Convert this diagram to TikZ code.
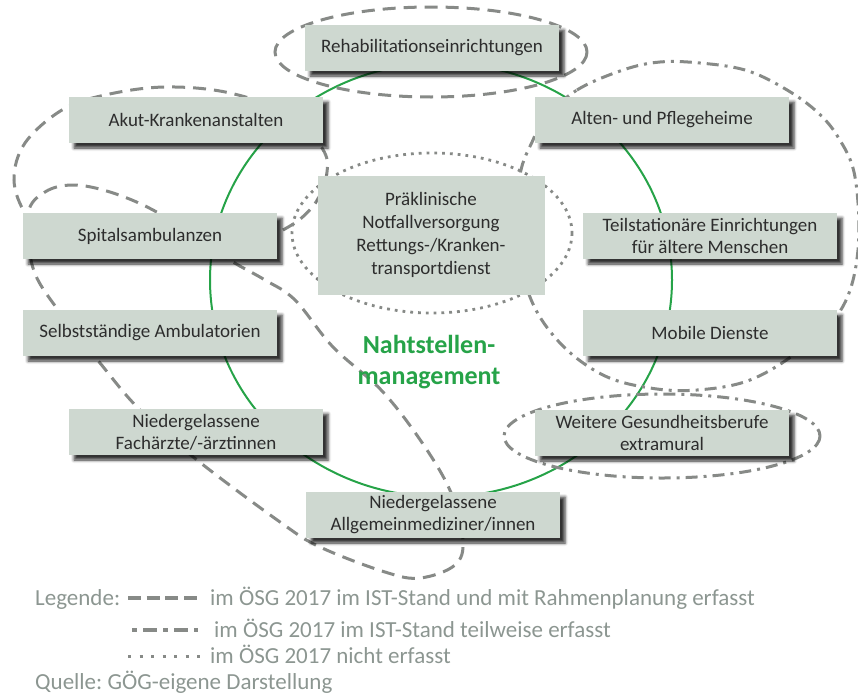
\documentclass[tikz,border=0pt]{standalone}
\usepackage{fontspec}
\setmainfont{Carlito}
\usetikzlibrary{shadows.blur}
\definecolor{boxsage}{RGB}{206,216,208}
\definecolor{inkgrey}{RGB}{45,45,45}
\definecolor{linegrey}{RGB}{135,138,135}
\definecolor{nahtgreen}{RGB}{38,163,72}
\definecolor{leggrey}{RGB}{140,150,145}
\frenchspacing

\tikzset{
  facility/.style={fill=boxsage, text=inkgrey, minimum width=254pt, minimum height=46pt,
    align=center, inner sep=0pt, font=\fontsize{19}{22}\selectfont,
    blur shadow={shadow xshift=5pt, shadow yshift=-5pt, shadow blur radius=3pt, shadow opacity=80}},
  fullline/.style={linegrey, line width=3pt, dash pattern=on 13pt off 8pt},
  partline/.style={linegrey, line width=3pt, dash pattern=on 12pt off 6pt on 3pt off 6pt},
  noneline/.style={linegrey, line width=2.8pt, dash pattern=on 2.8pt off 5pt},
  legtext/.style={text=leggrey, font=\fontsize{23}{26}\selectfont, inner sep=0pt, anchor=base west},
}

\begin{document}
\begin{tikzpicture}[x=1pt,y=-1pt]
        \useasboundingbox (0,0) rectangle (858,696);
        % green ring
        \draw[nahtgreen, line width=2pt] (441,280) ellipse [x radius=231, y radius=217];
        % groupings
        \draw[fullline] (431,52) ellipse [x radius=156, y radius=45];
        \draw[fullline] plot[smooth cycle, tension=0.6] coordinates {
          (322,148) (327,172) (316,202) (290,226) (250,240) (150,246) (50,240) (26,215)
          (14,180) (25,143) (62,110) (105,95) (165,87) (230,93) (290,115)};
        \draw[fullline] plot[smooth cycle, tension=0.6] coordinates {
          (28,214) (45,192) (73,185) (110,192) (153,210) (200,240) (233,262) (265,280)
          (295,300) (333,347) (383,392) (425,447) (452,495) (463,540) (455,565) (420,578)
          (385,572) (320,547) (280,522) (197,460) (140,410) (100,363) (58,310) (33,268)};
        \draw[partline] plot[smooth cycle, tension=0.6] coordinates {
          (545,118) (577,90) (623,70) (660,62) (700,63) (745,70) (782,87) (815,110)
          (838,137) (855,177) (858,250) (842,308) (800,350) (750,380) (697,390) (650,388)
          (603,375) (560,343) (530,297) (518,235) (520,175) (533,140)};
        \draw[partline] (662,436) ellipse [x radius=158, y radius=42];
        \draw[noneline] (432,233) ellipse [x radius=140, y radius=80];
        % facilities
        \node[facility] (rehab)    at (432,48)  {Rehabilitationseinrichtungen};
        \node[facility] (akut)     at (196,120) {Akut-Krankenanstalten};
        \node[facility] (alten)    at (662,120) {Alten- und Pflegeheime};
        \node[facility, blur shadow={shadow opacity=0}, minimum width=227pt, minimum height=119pt,
          font=\fontsize{19}{23}\selectfont] (notfall) at (431,235)
          {Präklinische\\Notfallversorgung\\Rettungs-/Kranken-\\transportdienst};
        \node[facility] (spital)   at (150,236) {Spitalsambulanzen};
        \node[facility] (teilstat) at (710,236) {Teilstationäre Einrichtungen\\für ältere Menschen};
        \node[facility] (ambul)    at (150,333) {Selbstständige Ambulatorien};
        \node[facility] (mobil)    at (710,333) {Mobile Dienste};
        \node[facility] (facharzt) at (196,432) {Niedergelassene\\Fachärzte/-ärztinnen};
        \node[facility] (weitere)  at (662,433) {Weitere Gesundheitsberufe\\extramural};
        \node[facility] (allgmed)  at (433,515) {Niedergelassene\\Allgemeinmediziner/innen};
        \node[text=nahtgreen, align=center, font=\fontsize{26}{31}\selectfont\bfseries]
          (naht) at (429,362) {Nahtstellen-\\management};
        % legend
        \node[legtext] (legende) at (35,605)  {Legende:};
        \node[legtext] (legfull) at (210,605) {im ÖSG 2017 im IST-Stand und mit Rahmenplanung erfasst};
        \node[legtext] (legpart) at (214,637) {im ÖSG 2017 im IST-Stand teilweise erfasst};
        \node[legtext] (legnone) at (210,663) {im ÖSG 2017 nicht erfasst};
        \node[legtext] (quelle)  at (35,689)  {Quelle: GÖG-eigene Darstellung};
        \coordinate (fullA) at (128,598); \coordinate (fullB) at (197,598);
        \coordinate (partA) at (132,630); \coordinate (partB) at (198,630);
        \coordinate (noneA) at (128,656); \coordinate (noneB) at (200,656);
        \draw[linegrey, line width=4pt, dash pattern=on 13pt off 5.7pt] (fullA) -- (fullB);
        \draw[linegrey, line width=4pt, dash pattern=on 5pt off 6pt on 14pt off 6pt] (partA) -- (partB);
        \draw[linegrey, line width=3pt, dash pattern=on 3pt off 8.5pt] (noneA) -- (noneB);
      \end{tikzpicture}
\end{document}
